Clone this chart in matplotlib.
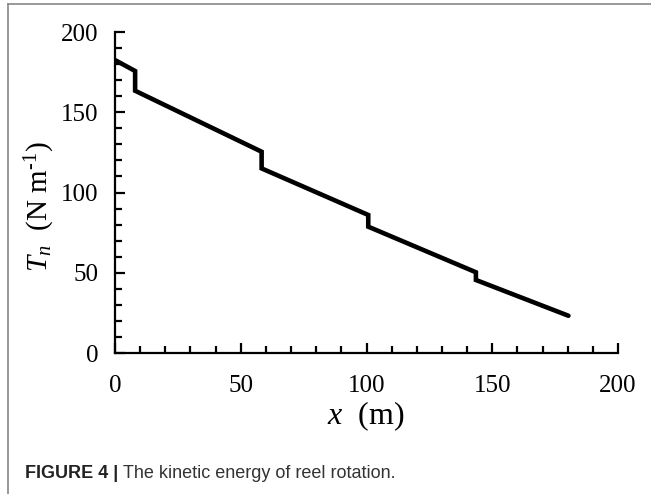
import matplotlib.pyplot as plt
from matplotlib.ticker import MultipleLocator
from matplotlib.lines import Line2D

# reel position (m) and tension T_n (N/m)
x_m = [0, 8, 8, 58.3, 58.3, 100.7, 100.7, 143.5, 143.5, 180.3]
tension = [182.5, 175.7, 163.4, 125.4, 115.0, 86.0, 78.7, 50.3, 45.5, 23.2]

x_ticks = [0, 50, 100, 150, 200]
y_ticks = [0, 50, 100, 150, 200]
caption_bold = "FIGURE 4 | "
caption_text = "The kinetic energy of reel rotation."

plt.rcParams['font.family'] = 'Liberation Serif'
plt.rcParams['mathtext.fontset'] = 'custom'
plt.rcParams['mathtext.rm'] = 'Liberation Serif'
plt.rcParams['mathtext.it'] = 'Liberation Serif:italic'

fig = plt.figure(figsize=(6.51, 4.94), dpi=100)
ax = fig.add_axes([115/651, 1-353/494, (618-115)/651, (353-32)/494])

ax.plot(x_m, tension, color='black', lw=3.3, solid_joinstyle='miter', solid_capstyle='round')

ax.set_xlim(0, 200)
ax.set_ylim(0, 200)
ax.set_xticks(x_ticks)
ax.set_yticks(y_ticks)
ax.xaxis.set_minor_locator(MultipleLocator(10))
ax.yaxis.set_minor_locator(MultipleLocator(10))
ax.spines['top'].set_visible(False)
ax.spines['right'].set_visible(False)
for s in ['left', 'bottom']:
    ax.spines[s].set_linewidth(1.6)
ax.tick_params(which='major', direction='in', length=7, width=1.6, labelsize=18)
ax.tick_params(which='minor', direction='in', length=5, width=1.6)
ax.tick_params(axis='y', which='major', pad=12)
ax.tick_params(axis='x', which='major', pad=16)

fig.text(366/651, 1-416/494, r'$x$  (m)', fontsize=23, ha='center', va='center')
fig.text(40/651, 1-207/494, r'$T_n$  (N m$^{\text{-1}}$)', fontsize=21,
         ha='center', va='center', rotation=90)

# caption with bold label
t = fig.text(25/651, 1-473/494, caption_bold, fontsize=13, fontweight='bold',
             family='Liberation Sans', color='#222222', va='center')
fig.canvas.draw()
bb = t.get_window_extent()
fig.text(bb.x1/fig.bbox.width, 1-473/494, caption_text, fontsize=13,
         family='Liberation Sans', color='#333333', va='center')

# gray frame around the figure (only top and left visible)
fig.add_artist(Line2D([8/651, 8/651], [0, 1-4/494], color='#888888', lw=1.2,
                      transform=fig.transFigure))
fig.add_artist(Line2D([8/651, 1], [1-4/494, 1-4/494], color='#888888', lw=1.2,
                      transform=fig.transFigure))

fig.savefig('out.png', dpi=100)
